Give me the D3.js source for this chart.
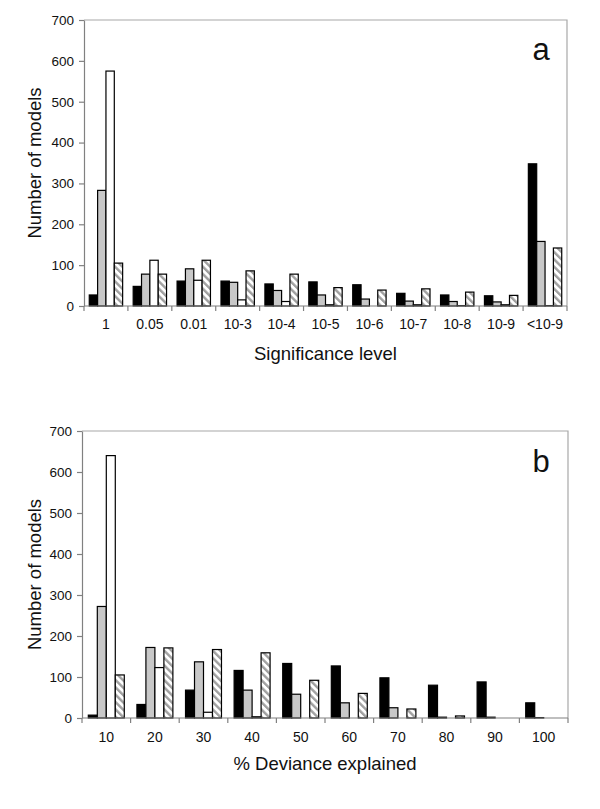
<!DOCTYPE html>
<html>
<head>
<meta charset="utf-8">
<script src="https://cdn.jsdelivr.net/npm/d3@7/dist/d3.min.js"></script>
<style>
  html, body { margin: 0; padding: 0; background: #fff; }
  text { font-family: "Liberation Sans", Arial, sans-serif; fill: #111; }
</style>
</head>
<body>
<svg id="chart" width="600" height="809"></svg>
<script>
// ---------- data ----------
const seriesKeys = ["black", "gray", "white", "hatched"];

const sigLevels = ["1", "0.05", "0.01", "10-3", "10-4", "10-5", "10-6", "10-7", "10-8", "10-9", "<10-9"];
const sigBlack   = [27, 48, 61, 61, 54, 59, 52, 31, 27, 25, 348];
const sigGray    = [283, 78, 91, 58, 38, 27, 17, 12, 11, 10, 158];
const sigWhite   = [575, 112, 63, 15, 11, 3, 0, 3, 1, 3, 1];
const sigHatched = [105, 78, 112, 86, 78, 45, 39, 42, 34, 26, 142];

const devLevels = ["10", "20", "30", "40", "50", "60", "70", "80", "90", "100"];
const devBlack   = [7, 33, 68, 116, 133, 127, 98, 80, 88, 37];
const devGray    = [272, 172, 137, 68, 58, 37, 25, 2, 2, 1];
const devWhite   = [640, 123, 14, 3, 0, 0, 0, 0, 0, 0];
const devHatched = [105, 171, 167, 159, 92, 60, 22, 5, 0, 0];

const yTicks = [0, 100, 200, 300, 400, 500, 600, 700];

// ---------- drawing ----------
const svg = d3.select("#chart");

const defs = svg.append("defs");
const pat = defs.append("pattern")
  .attr("id", "hatch")
  .attr("patternUnits", "userSpaceOnUse")
  .attr("width", 5.2).attr("height", 5.2)
  .attr("patternTransform", "rotate(-45)");
pat.append("rect").attr("width", 5.2).attr("height", 5.2).attr("fill", "#fff");
pat.append("rect").attr("x", 0).attr("width", 2.4).attr("height", 5.2).attr("fill", "#a0a0a0");

const fills = { black: "#000", gray: "#c8c8c8", white: "#fff", hatched: "url(#hatch)" };

function drawPanel(cfg) {
  const { left, right, top, bottom, cats, series, letter, title, letterY, titleY, tickLabelY, pad } = cfg;
  const g = svg.append("g");

  const x = d3.scaleBand().domain(cats).range([left, right])
    .paddingInner(pad).paddingOuter(pad / 2);
  const xs = d3.scaleBand().domain(seriesKeys).range([0, x.bandwidth()]).padding(0);
  const y = d3.scaleLinear().domain([0, 700]).range([bottom, top]);

  // plot frame (top & right)
  g.append("path")
    .attr("d", `M${left},${top}H${right}V${bottom}`)
    .attr("fill", "none").attr("stroke", "#a8a8a8").attr("stroke-width", 1.2);

  // bars
  const rows = cats.map((c, i) => ({ cat: c, vals: seriesKeys.map(k => ({ key: k, v: series[k][i] })) }));
  const grp = g.selectAll("g.cat").data(rows).join("g")
    .attr("transform", d => `translate(${x(d.cat)},0)`);
  grp.selectAll("rect").data(d => d.vals).join("rect")
    .attr("x", d => xs(d.key))
    .attr("width", xs.bandwidth())
    .attr("y", d => y(d.v))
    .attr("height", d => y(0) - y(d.v))
    .attr("fill", d => fills[d.key])
    .attr("stroke", "#000")
    .attr("stroke-width", 1.2);

  // y axis
  const ya = g.append("g").attr("transform", `translate(${left},0)`)
    .call(d3.axisLeft(y).tickValues(yTicks).tickSize(5).tickPadding(5).tickSizeOuter(0));
  ya.select(".domain").attr("stroke", "#808080").attr("stroke-width", 1.2);
  ya.selectAll(".tick line").attr("stroke", "#808080").attr("stroke-width", 1.2);
  ya.selectAll(".tick text").attr("font-size", 13.5).attr("font-family", "Liberation Sans, Arial, sans-serif").attr("fill", "#111");

  // x axis line + boundary ticks
  g.append("line").attr("x1", left).attr("x2", right).attr("y1", bottom).attr("y2", bottom)
    .attr("stroke", "#808080").attr("stroke-width", 1.2);
  const step = x.step();
  const bounds = d3.range(cats.length + 1).map(i => x(cats[0]) - step * pad / 2 + i * step);
  g.selectAll("line.xt").data(bounds).join("line")
    .attr("class", "xt")
    .attr("x1", d => d).attr("x2", d => d)
    .attr("y1", bottom).attr("y2", bottom + 5)
    .attr("stroke", "#808080").attr("stroke-width", 1.2);
  g.selectAll("text.xl").data(cats).join("text")
    .attr("class", "xl")
    .attr("x", d => x(d) + x.bandwidth() / 2)
    .attr("y", tickLabelY)
    .attr("text-anchor", "middle")
    .attr("font-size", 14)
    .text(d => d);

  // titles
  g.append("text")
    .attr("x", (left + right) / 2).attr("y", titleY)
    .attr("text-anchor", "middle").attr("font-size", 18.5)
    .text(title);
  g.append("text")
    .attr("transform", `translate(41,${(top + bottom) / 2}) rotate(-90)`)
    .attr("text-anchor", "middle").attr("font-size", 18.5)
    .text("Number of models");
  g.append("text")
    .attr("x", 541).attr("y", letterY)
    .attr("text-anchor", "middle").attr("font-size", 31)
    .text(letter);
}

drawPanel({
  left: 84, right: 567, top: 20, bottom: 306,
  cats: sigLevels,
  series: { black: sigBlack, gray: sigGray, white: sigWhite, hatched: sigHatched },
  letter: "a", letterY: 60, title: "Significance level", titleY: 360, tickLabelY: 329, pad: 0.24
});

drawPanel({
  left: 82, right: 568, top: 431, bottom: 718,
  cats: devLevels,
  series: { black: devBlack, gray: devGray, white: devWhite, hatched: devHatched },
  letter: "b", letterY: 472, title: "% Deviance explained", titleY: 770, tickLabelY: 742, pad: 0.26
});
</script>
</body>
</html>
